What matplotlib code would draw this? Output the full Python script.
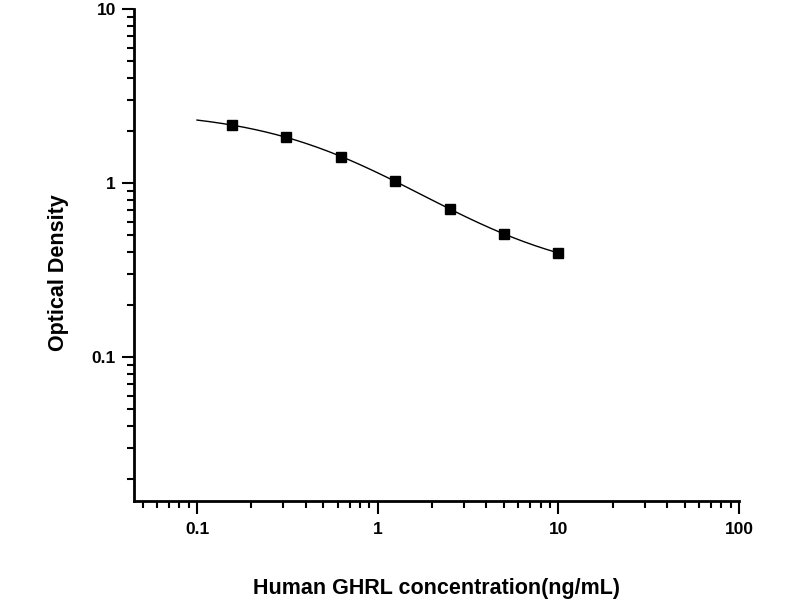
import numpy as np
import matplotlib
matplotlib.use('Agg')
import matplotlib.pyplot as plt
from matplotlib.ticker import LogLocator, FixedFormatter, FixedLocator, NullFormatter

conc = [0.156, 0.3125, 0.625, 1.25, 2.5, 5.0, 10.0]
od = [2.15, 1.84, 1.41, 1.03, 0.71, 0.51, 0.396]
xtick_vals = [0.1, 1, 10, 100]
xtick_labels = ['0.1', '1', '10', '100']
ytick_vals = [0.1, 1, 10]
ytick_labels = ['0.1', '1', '10']


def fit_4pl(x, y):
	#grid search on C and B, A and D solved by linear least squares
	x = np.asarray(x, dtype=float)
	y = np.asarray(y, dtype=float)
	best = None
	for logc in np.linspace(-1.0, 2.0, 301):
		c = 10.0 ** logc
		for b in np.linspace(0.3, 3.0, 271):
			g = 1.0 / (1.0 + (x / c) ** b)
			m = np.vstack([g, 1.0 - g]).T
			coef, res, rk, sv = np.linalg.lstsq(m, y, rcond=None)
			err = float(np.sum((m @ coef - y) ** 2))
			if best is None or err < best[0]:
				best = (err, coef[0], coef[1], c, b)
	return best[1:]


a, d, c, b = fit_4pl(conc, od)
xfit = np.logspace(-1, 1, 200)
yfit = d + (a - d) / (1.0 + (xfit / c) ** b)

plt.rcParams['font.family'] = ['Liberation Sans', 'DejaVu Sans']
plt.rcParams['font.weight'] = 'bold'

fig = plt.figure(figsize=(8, 6), dpi=100)
ax = fig.add_axes([0.1675, 0.165, 0.75625, 0.82])

ax.plot(xfit, yfit, color='black', lw=1.0)
ax.plot(conc, od, 's', color='black', markersize=6.8)

ax.set_xscale('log')
ax.set_yscale('log')
ax.set_xlim(0.0448, 100)
ax.set_ylim(0.0149, 10)

ax.spines['top'].set_visible(False)
ax.spines['right'].set_visible(False)
ax.spines['left'].set_linewidth(2)
ax.spines['bottom'].set_linewidth(2)

ax.xaxis.set_major_locator(FixedLocator(xtick_vals))
ax.xaxis.set_major_formatter(FixedFormatter(xtick_labels))
ax.yaxis.set_major_locator(FixedLocator(ytick_vals))
ax.yaxis.set_major_formatter(FixedFormatter(ytick_labels))
ax.xaxis.set_minor_locator(LogLocator(base=10, subs=np.arange(2, 10), numticks=20))
ax.yaxis.set_minor_locator(LogLocator(base=10, subs=np.arange(2, 10), numticks=20))
ax.xaxis.set_minor_formatter(NullFormatter())
ax.yaxis.set_minor_formatter(NullFormatter())

ax.tick_params(which='major', direction='out', length=9, width=1.5, labelsize=12.5)
ax.tick_params(which='minor', direction='out', length=5, width=1.5)
ax.tick_params(axis='x', which='major', pad=6)
ax.tick_params(axis='y', which='major', pad=4)

ax.set_xlabel('Human GHRL concentration(ng/mL)', fontsize=15.5, fontweight='bold')
ax.set_ylabel('Optical Density', fontsize=15.5, fontweight='bold')
ax.xaxis.set_label_coords(0.5, -0.157)
ax.yaxis.set_label_coords(-0.108, 0.465)

fig.savefig('out.png', dpi=100)
